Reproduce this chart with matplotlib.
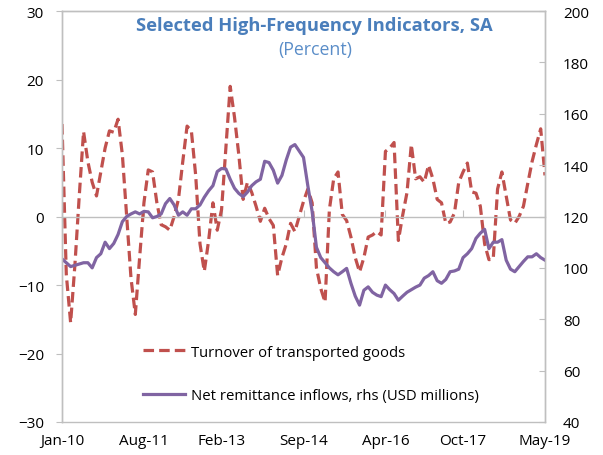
import matplotlib
matplotlib.use("Agg")
import matplotlib.pyplot as plt
import numpy as np
from datetime import datetime

plt.rcParams['font.family'] = ['Open Sans', 'DejaVu Sans']

start_label = "Jan-10"
n_months = 113

turnover = [13.5, -8.5, -15.5, -7, 3, 12.4, 8, 5, 3, 6.5,
            10, 12.5, 12.3, 14.2, 9, 0, -9, -14.3, -6, 2,
            6.8, 6.5, 2, -1.2, -1.5, -2, 0, 2.5, 8, 13.2,
            12.5, 6, -4, -8, -3.5, 2, -2, 1, 10, 19,
            14.5, 9, 2.5, 5, 3.5, 1.5, -0.7, 1.2, -0.3, -1.3,
            -8.6, -6, -4, -1, -2.2, 0, 2.2, 4, 2, -7.5,
            -10.5, -12.5, 1, 5.5, 6.5, 0.3, -0.6, -3, -6, -8.1,
            -6, -3, -2.7, -2.2, -2.7, 9.5, 10, 10.8, -3.5, 0.2,
            3.5, 10.5, 5.5, 5.8, 5, 7.5, 5.5, 2.5, 2, -1,
            -0.8, 0.5, 5, 6.5, 7.8, 3.6, 3.4, 1.5, -4, -6.3,
            -6.2, 4, 6.5, 3, -0.5, -1, 0, 1.5, 4.8, 8,
            10.5, 12.8, 6]

remittances = [103.5, 102, 100.5, 101, 101.5, 102, 102, 100, 104, 105.5,
               110, 107.5, 109.5, 113, 118, 120, 121, 121.8, 121, 122,
               121.8, 119.5, 120, 121, 125, 127, 124.5, 120.5, 121.8, 120.5,
               123, 123, 124.5, 127.5, 130, 132, 137.5, 138.7, 138.5, 134.5,
               131, 129, 127.7, 129.5, 132, 133.5, 134.5, 141.5, 141, 138,
               133, 136, 142, 147, 148, 145.5, 143, 132, 122, 108,
               104, 102, 100, 98.5, 97.3, 98.5, 99.8, 94, 89, 85.5,
               91.3, 92.6, 90.5, 89.4, 88.8, 93.3, 91.5, 90, 87.4, 89,
               90.5, 91.5, 92.5, 93.3, 96, 97, 98.5, 95, 94, 95.5,
               98.5, 98.8, 99.5, 104, 105.5, 107.5, 111.5, 113.5, 115, 107.5,
               110, 110, 111, 103, 99.5, 98.5, 100.5, 102.5, 104.3, 104.3,
               105.5, 104, 103]

tick_labels = ["Jan-10", "Aug-11", "Feb-13", "Sep-14", "Apr-16", "Oct-17", "May-19"]
left_ticks = [-30, -20, -10, 0, 10, 20, 30]
right_ticks = [40, 60, 80, 100, 120, 140, 160, 180, 200]

title = "Selected High-Frequency Indicators, SA"
subtitle = "(Percent)"
label_turnover = "Turnover of transported goods"
label_remit = "Net remittance inflows, rhs (USD millions)"

def month_index(lbl):
    d = datetime.strptime(lbl, "%b-%y")
    s = datetime.strptime(start_label, "%b-%y")
    return (d.year - s.year) * 12 + (d.month - s.month)

x = np.arange(n_months)
tick_pos = [month_index(t) for t in tick_labels]

RED = '#C0504D'
PURPLE = '#8064A2'
GRAY = '#BFBFBF'
BLUE = '#4A7EBB'

fig = plt.figure(figsize=(6.03, 4.56), dpi=100)
ax = fig.add_axes([62/603, 1 - 423/456, (545-62)/603, (423-12)/456])
ax2 = ax.twinx()

l1, = ax.plot(x, turnover, color=RED, lw=2.3, dashes=(3.3, 1.6), label=label_turnover)
l2, = ax2.plot(x, remittances, color=PURPLE, lw=2.3, label=label_remit)

ax.set_xlim(0, n_months - 1)
ax.set_ylim(-30, 30)
ax2.set_ylim(40, 200)
ax.set_yticks(left_ticks)
ax2.set_yticks(right_ticks)
ax.set_xticks(tick_pos)

for a in (ax, ax2):
    for s in a.spines.values():
        s.set_color(GRAY)
        s.set_linewidth(1.0)

# zero line with inward ticks
ax.spines['bottom'].set_position(('data', 0))
ax.tick_params(axis='x', direction='in', length=5, color=GRAY, labelbottom=False)
ax.tick_params(axis='y', direction='out', length=4, color=GRAY, labelsize=11, pad=9, labelcolor='black')

ax2.xaxis.set_visible(True)
ax2.set_xticks(tick_pos)
ax2.set_xticklabels(tick_labels)
ax2.tick_params(axis='x', length=0, labelsize=11, pad=8, labelbottom=True)
ax2.tick_params(axis='y', direction='in', length=4, color=GRAY, labelsize=11, pad=13, labelcolor='black')

fig.text(314/603, 1 - 26/456, title, ha='center', va='center', fontsize=13.2,
         fontweight='bold', color=BLUE)
fig.text(315/603, 1 - 50/456, subtitle, ha='center', va='center', fontsize=12.8,
         color='#5A8DC8')

leg = ax2.legend([l1, l2], [label_turnover, label_remit], loc='center left',
                 bbox_to_anchor=(143/603, 1 - 375/456), bbox_transform=fig.transFigure,
                 frameon=False, fontsize=10.7, handlelength=2.85, handletextpad=0.4,
                 labelspacing=1.95, borderpad=0, borderaxespad=0)

fig.savefig("out.png", dpi=100)
